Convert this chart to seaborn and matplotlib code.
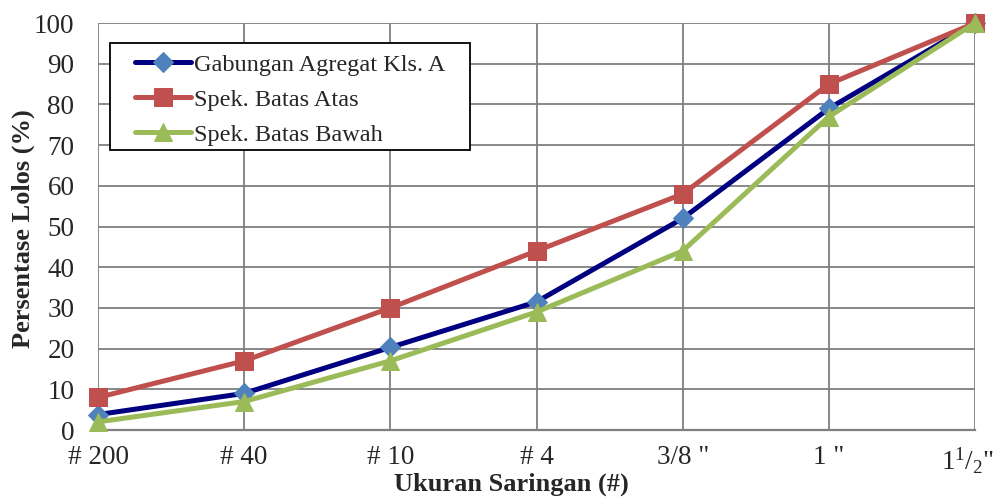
import matplotlib
matplotlib.use("Agg")
import matplotlib.pyplot as plt
from matplotlib.patches import Rectangle
from matplotlib.transforms import ScaledTranslation
import seaborn as sns
import pandas as pd

# Sieve sizes (x categories)
sieves = ['# 200', '# 40', '# 10', '# 4', '3/8 "', '1 "', r'$\mathregular{1^1/_2}$"']

# Percent passing for each series
gabungan = [3.8, 9.0, 20.3, 31.5, 52.0, 79.0, 100.0]
batas_atas = [8, 17, 30, 44, 58, 85, 100]
batas_bawah = [2, 7, 17, 29, 44, 77, 100]

series_names = ['Gabungan Agregat Kls. A', 'Spek. Batas Atas', 'Spek. Batas Bawah']

sns.set_theme(style="white")
plt.rcParams['font.family'] = ['Liberation Serif', 'DejaVu Serif']
plt.rcParams['mathtext.fontset'] = 'custom'
plt.rcParams['mathtext.rm'] = 'Liberation Serif'

rows = []
for name, vals in zip(series_names, [gabungan, batas_atas, batas_bawah]):
    for i, v in enumerate(vals):
        rows.append({'pos': i, 'passing': v, 'series': name})
df = pd.DataFrame(rows)

fig = plt.figure(figsize=(9.97, 4.98), dpi=100)
ax = fig.add_axes([0.0983, 0.1365, 0.8797, 0.8173])

styles = {
    'Gabungan Agregat Kls. A': dict(color='#000080', marker='D', ms=10, mfc='#4F81BD', mec='#4F81BD'),
    'Spek. Batas Atas': dict(color='#C0504D', marker='s', ms=12.5, mfc='#C0504D', mec='#C0504D'),
    'Spek. Batas Bawah': dict(color='#9BBB59', marker='^', ms=13.5, mfc='#9BBB59', mec='#9BBB59'),
}

for name in series_names:
    st = styles[name]
    sub = df[df['series'] == name]
    sns.lineplot(data=sub, x='pos', y='passing', ax=ax, color=st['color'],
                 linewidth=3.6, marker=st['marker'], markersize=st['ms'],
                 markerfacecolor=st['mfc'], markeredgecolor=st['mec'],
                 label=name, clip_on=False, zorder=3)

ax.set_xlim(0, len(sieves) - 1)
ax.set_ylim(0, 100)
ax.set_xticks(range(len(sieves)))
ax.set_xticklabels(sieves, fontsize=19.5)
ax.set_yticks(range(0, 101, 10))
ax.tick_params(axis='y', labelsize=19.5, length=0, pad=17)
ax.tick_params(axis='x', length=0, pad=11)

# nudge the last (widest) sieve label left so it stays inside the figure
last = ax.get_xticklabels()[-1]
last.set_transform(last.get_transform() + ScaledTranslation(-0.07, 0, fig.dpi_scale_trans))

ax.grid(True, color='#7F7F7F', linewidth=1.3)
ax.set_axisbelow(True)
for side in ['top', 'right', 'left']:
    ax.spines[side].set_visible(False)
ax.spines['bottom'].set_color('#7F7F7F')
ax.spines['bottom'].set_linewidth(1.6)

ax.set_xlabel('Ukuran Saringan (#)', fontsize=19, fontweight='bold')
ax.set_ylabel('Persentase Lolos (%)', fontsize=19, fontweight='bold')
ax.xaxis.set_label_coords(0.471, -0.105)
ax.yaxis.set_label_coords(-0.0718, 0.496)

# legend frame drawn as its own box, with wide side margins
ax.add_patch(Rectangle((0.0137, 0.688), 0.4105, 0.263, transform=ax.transAxes,
                       facecolor='white', edgecolor='black', linewidth=1.3,
                       zorder=5, clip_on=False))
leg = ax.legend(loc='upper left', bbox_to_anchor=(0.042, 0.924), borderaxespad=0,
                fontsize=17.5, frameon=False, handlelength=2.3, handletextpad=0.12,
                borderpad=0, labelspacing=0.53)
leg.set_zorder(6)

fig.savefig('out.png', dpi=100)
